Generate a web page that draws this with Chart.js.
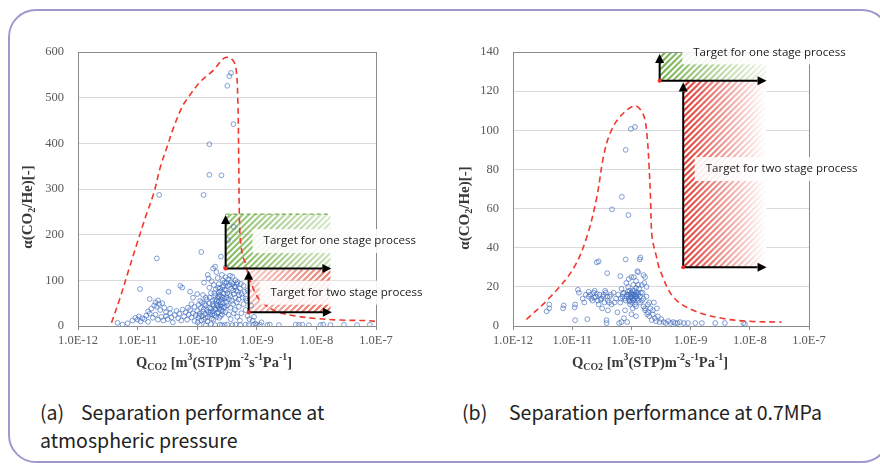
<!DOCTYPE html>
<html><head><meta charset="utf-8">
<script src="https://cdn.jsdelivr.net/npm/chart.js@4/dist/chart.umd.min.js"></script>
<style>
body{margin:0;background:#fff;width:880px;height:466px;overflow:hidden;position:relative;}
#frame{position:absolute;left:8px;top:9px;width:882px;height:454px;border:2px solid #a497cf;border-radius:28px;box-sizing:border-box;}
canvas{position:absolute;top:0;}
.cap{position:absolute;font-family:"Noto Sans CJK JP";font-size:19.5px;color:#222;line-height:28px;white-space:nowrap;}
</style></head><body>
<div id="frame"></div>
<canvas id="c1" width="440" height="380" style="left:0"></canvas>
<canvas id="c2" width="440" height="380" style="left:440px"></canvas>
<div class="cap" style="left:40px;top:398px">(a)</div>
<div class="cap" style="left:81px;top:398px">Separation performance at</div>
<div class="cap" style="left:40px;top:426px">atmospheric pressure</div>
<div class="cap" style="left:462px;top:398px">(b)</div>
<div class="cap" style="left:509px;top:398px">Separation performance at 0.7MPa</div>
<script>
// ---------- DATA ----------
const xTickExponents = [-12, -11, -10, -9, -8, -7];
const leftYTicksMax = 600, leftYStep = 100;
const rightYTicksMax = 140, rightYStep = 20;

// (a) atmospheric pressure : [Q_CO2, alpha]
const leftPoints = [
[2.3e-11,287],[1.28e-10,287],[1.6e-10,331],[2.55e-10,330],[1.6e-10,398],[4.05e-10,442],[3.2e-10,526],[3.45e-10,547],[3.7e-10,554],[4.1e-10,217],[3.3e-10,188],[2.1e-11,148],[1.17e-10,162],[2.5e-10,152],[2.0e-10,130],[1.85e-10,126],[3.0e-10,128],
[1.1e-11,81],[3.3e-11,75],[5.2e-11,88],[5.6e-11,84],[7.6e-11,75],[1.6e-11,59],[1.3e-10,95],[1.5e-10,112],[1.55e-10,104],[1.75e-10,98],[1.9e-10,90],[2.1e-10,118],[2.2e-10,105],[2.3e-10,92],[2.4e-10,82],[2.6e-10,112],[2.7e-10,100],[2.8e-10,88],[3.0e-10,107],[3.1e-10,95],[3.3e-10,102],[3.5e-10,90],[3.7e-10,96],[3.9e-10,108],[4.2e-10,86],[4.4e-10,100],[4.6e-10,92],[4.8e-10,75],[5.2e-10,82],[5.6e-10,70],[6e-10,88],[6.5e-10,60],[7e-10,78],[1.25e-10,68],[1.4e-10,62],[1.7e-10,72],[2.0e-10,66],[2.3e-10,74],[2.6e-10,64],[2.9e-10,80],[3.2e-10,72],[3.6e-10,66],[4.0e-10,78],[4.4e-10,62],[5.0e-10,68],[8.5e-11,62],[1.0e-10,70],
[1.7e-11,38],[1.9e-11,45],[2.0e-11,52],[2.1e-11,42],[2.2e-11,56],[2.3e-11,48],[2.4e-11,35],[2.6e-11,50],[2.8e-11,40],[1.5e-11,32],[3.0e-11,30],[3.5e-11,38],
[4.6e-12,7],[5.6e-12,3],[6.8e-12,6],[8.2e-12,12],[9.2e-12,18],[1.0e-11,14],[1.05e-11,21],[1.12e-11,10],[1.2e-11,17],[1.3e-11,15],[1.4e-11,23],[1.5e-11,9],[1.6e-11,27],[1.8e-11,18],[2.0e-11,25],[2.2e-11,14],[2.5e-11,20],[2.7e-11,12],[3.0e-11,22],[3.2e-11,15],[3.5e-11,28],[3.7e-11,19],[3.9e-11,8],[4.2e-11,24],[4.5e-11,33],[4.8e-11,17],[5.0e-11,27],[5.4e-11,12],[5.7e-11,36],[6.0e-11,21],[6.4e-11,30],[6.8e-11,14],[7.2e-11,25],[7.6e-11,35],[8.0e-11,19],[8.5e-11,28],[9.0e-11,11],[9.5e-11,24],[1.0e-10,33],[1.05e-10,18],[1.1e-10,27],[1.15e-10,40],[1.2e-10,22],[1.25e-10,31],[1.3e-10,14],[1.35e-10,26],[1.4e-10,45],[1.45e-10,35],[1.5e-10,20],[1.55e-10,30],[1.6e-10,50],[1.65e-10,25],[1.7e-10,38],[1.75e-10,16],[1.8e-10,55],[1.85e-10,32],[1.9e-10,44],[1.95e-10,24],[2.0e-10,58],[2.05e-10,36],[2.1e-10,48],[2.15e-10,28],[2.2e-10,62],[2.25e-10,42],[2.3e-10,54],[2.35e-10,18],[2.4e-10,68],[2.45e-10,46],[2.5e-10,35],[2.55e-10,58],[2.6e-10,25],[2.7e-10,50],[2.75e-10,72],[2.8e-10,40],[2.9e-10,60],[3.0e-10,30],[3.1e-10,52],[3.2e-10,45],[3.4e-10,58],[3.6e-10,40],[3.8e-10,55],[4.0e-10,48],[4.3e-10,35],[4.6e-10,52],[5.0e-10,42],[5.5e-10,28],[6.0e-10,48],[6.5e-10,35],[7.0e-10,22],
[1.02e-10,8],[1.08e-10,22],[1.18e-10,12],[1.28e-10,36],[1.38e-10,18],[1.48e-10,10],[1.58e-10,40],[1.68e-10,30],[1.78e-10,26],[1.88e-10,14],[1.98e-10,38],[2.08e-10,20],[2.18e-10,45],[2.28e-10,30],[2.38e-10,38],[2.48e-10,22],[2.58e-10,42],[2.68e-10,32],
[1.1e-10,3],[1.4e-10,2],[1.7e-10,4],[2.0e-10,2],[2.4e-10,3],[2.9e-10,2],
[2.6e-10,2],[3.2e-10,3],[3.9e-10,2],[4.4e-10,3],[5.3e-10,2],[6.5e-10,3],[7.3e-10,2],[8.9e-10,3],[1.0e-9,2],[1.13e-9,3],[1.5e-9,2],[1.65e-9,3],[2.35e-9,2],[4.5e-9,3],[5.1e-9,2],[5.8e-9,3],[7.5e-9,2],[1.17e-8,2],[1.3e-8,3],[1.72e-8,2],[2.9e-8,3],[4.8e-8,2],[7.9e-8,3],
[1.2e-9,8],[8.5e-10,12],[9.5e-10,5],[7.5e-10,15],[8e-10,45],[6.8e-10,55],[9e-10,20],
[2.65e-10,85],[2.85e-10,95],[3.05e-10,78],[3.25e-10,88],[3.45e-10,70],[3.55e-10,110],[3.75e-10,82],[3.95e-10,92],[4.15e-10,70],[4.35e-10,86],[4.55e-10,78],[4.75e-10,96],[4.95e-10,58],[5.4e-10,92],[5.8e-10,62],[6.2e-10,75],[2.45e-10,76],[2.25e-10,84],[2.05e-10,80],[1.95e-10,72],[1.6e-10,84],[1.45e-10,58],[1.2e-10,52],[1.05e-10,46],[9e-11,42],[8e-11,48],[7e-11,40],[3.35e-10,25],[3.65e-10,15],[4.1e-10,28],[4.7e-10,20],[5.2e-10,12],[1.12e-10,55],[1.32e-10,48],[1.62e-10,62],[1.82e-10,48],[2.12e-10,55],[2.32e-10,65],[2.52e-10,52],[2.72e-10,62],[2.92e-10,42],[3.12e-10,62]
];

// (b) 0.7 MPa : [Q_CO2, alpha]
const rightPoints = [
[4.7e-11,59.6],[8.9e-11,56.7],[6.9e-11,66],[8.0e-11,90],[9.8e-11,100.7],[1.15e-10,101.7],
[8e-11,34],[1.38e-10,34],[1.42e-10,35],[2.8e-11,33],[2.6e-11,32.5],[3.9e-11,27],[1.26e-10,28],[1.3e-10,27.5],[6.5e-11,25.5],[1.0e-10,25],[1.6e-10,26],[1.7e-10,25],[1.65e-10,22],[1.5e-10,21],[1.2e-10,23],[9e-11,24],[2.0e-10,12],[2.3e-10,8],[1.8e-10,20],
[7e-11,15],[7.5e-11,17],[8e-11,13],[8.5e-11,16],[9e-11,14],[9.3e-11,18],[9.6e-11,15],[1.0e-10,17],[1.03e-10,14],[1.06e-10,16],[1.1e-10,13],[1.13e-10,18],[1.16e-10,15],[1.2e-10,17],[1.25e-10,14],[1.3e-10,16],[1.35e-10,19],[1.4e-10,15],[6.5e-11,12],[6e-11,16],[5.5e-11,14],[5e-11,17],[5.2e-11,12],[9.5e-11,11],[1.05e-10,9],[1.15e-10,11],[8.8e-11,20],[1.08e-10,21],[1.2e-10,10],[1.4e-10,12],[1.55e-10,17],[1.6e-10,14],[1.7e-10,9],[1.8e-10,15],[1.9e-10,7],[7.8e-11,8],[8.2e-11,22],[6.8e-11,19],
[1.9e-11,15],[2e-11,16],[2.1e-11,14],[2.3e-11,17],[2.5e-11,15],[2.7e-11,13],[2.9e-11,16],[3.1e-11,14],[3.3e-11,15],[3.5e-11,12],[3.7e-11,17],[4e-11,13],[4.3e-11,15],[4.6e-11,11],[1.7e-11,16],[1.6e-11,12],[1.5e-11,14],[2.2e-11,13],[2.8e-11,11],[3.2e-11,9],[4e-11,8],[3.6e-11,18],[2.4e-11,18],[4.5e-11,16],
[3.7e-12,7.5],[4.1e-12,9],[4.1e-12,11],[7e-12,9],[7.2e-12,10.5],[1.12e-11,11],[1.1e-11,9.5],[1.12e-11,3],[1.25e-11,18.5],[1.3e-11,17],[1.8e-11,3.5],[1.9e-11,17.5],[3.8e-11,3],[3.8e-11,1.5],[6.2e-11,1.5],[6.8e-11,2],[5.8e-11,7],[7.5e-11,4],[1.2e-10,5],[1.0e-10,6],[8.5e-11,2],
[1.6e-10,10],[1.7e-10,8],[1.85e-10,6],[2.0e-10,5],[2.1e-10,9],[2.2e-10,3],[2.3e-10,6],[2.5e-10,4],[2.6e-10,2.5],[2.8e-10,5],[3.0e-10,2],[3.2e-10,3.5],[3.5e-10,2],[3.8e-10,1.5],[4.2e-10,2.5],[4.6e-10,1.5],[5.1e-10,2],[5.5e-10,1.5],[6e-10,1.5],[6.6e-10,2],[7.7e-10,1.5],[9e-10,1.5],[1.2e-9,1.5],[1.55e-9,1.5],[2.6e-9,1.5],[3.8e-9,1.5],[7.8e-9,1.5],[8.3e-9,1],[2.4e-10,12],[2.7e-10,9],[1.9e-10,11],
[8.3e-11,15],[8.7e-11,17.5],[9.1e-11,16],[9.4e-11,13],[9.8e-11,16.5],[1.01e-10,15],[1.04e-10,18],[1.07e-10,13.5],[1.11e-10,16],[1.14e-10,14],[1.18e-10,16],[1.22e-10,15],[1.27e-10,17],[1.32e-10,13],[7.7e-11,14],[7.2e-11,16.5],[6.6e-11,14],[1.45e-10,17],[1.5e-10,13],[2.35e-11,14.5],[2.6e-11,16.5],[3e-11,13.5],[3.4e-11,16],[3.9e-11,15],[4.2e-11,12],[1.02e-10,12],[9.2e-11,12.5],[1.2e-10,19.5],[1.3e-10,21],[1.1e-10,25]
];

// upper-bound (dashed red) curves : [Q_CO2, alpha]
const leftBound = [[3.65e-12,7],[5.16e-12,64],[7.1e-12,123],[9.8e-12,181],[1.36e-11,239],[1.87e-11,291],[2.42e-11,349],[3.14e-11,393],[4.05e-11,436],[5.6e-11,480],[7.2e-11,502],[1.13e-10,535],[1.9e-10,561],[2.79e-10,586],[3.6e-10,587],[4.4e-10,569],[4.8e-10,495],[4.99e-10,349],[5.2e-10,204],[5.75e-10,155],[6.45e-10,137],[7.35e-10,108],[1.02e-9,64],[1.4e-9,46],[2.2e-9,31],[4.45e-9,22],[8.9e-9,17],[2.5e-8,13],[8.1e-8,11.6],[9.6e-8,10]];
const rightBound = [[1.68e-12,3.3],[4.26e-12,14.8],[1.05e-11,29.4],[1.77e-11,45.6],[2.61e-11,66],[3.37e-11,86.5],[4.37e-11,98.5],[6.45e-11,107],[1.15e-10,112.5],[1.59e-10,108],[1.82e-10,98.5],[1.99e-10,81.4],[2.11e-10,64.4],[2.23e-10,45.6],[2.61e-10,36.2],[3.05e-10,28.5],[5.1e-10,14.8],[1.11e-9,8],[3.56e-9,3.8],[1e-8,2.4],[3.44e-8,2]];

// target regions : origin (Q, alpha), extent to Q and alpha
const targetLabels = ['Target for one stage process', 'Target for two stage process'];
const leftTargets = [
  {q0:3e-10, a0:126, q1:1.72e-8, a1:246, tipA:243, tipQ:1.78e-8, label:0, lq:1.3e-9, la:186},
  {q0:7.3e-10, a0:30, q1:1.72e-8, a1:124, tipA:121, tipQ:1.82e-8, label:1, lq:1.7e-9, la:73}
];
const rightTargets = [
  {q0:3e-10, a0:125.3, q1:1.92e-8, a1:140, tipA:139, tipQ:1.92e-8, label:0, lq:1.11e-9, la:139.8},
  {q0:7.5e-10, a0:30, q1:1.92e-8, a1:125, tipA:124.4, tipQ:1.92e-8, label:1, lq:1.8e-9, la:80.2}
];

// ---------- DRAWING HELPERS ----------
const toXY = arr => arr.map(p => ({x:p[0], y:p[1]}));

function drawRich(ctx, segs, x, y, size, rotate){
  ctx.save();
  ctx.translate(x, y);
  if (rotate) ctx.rotate(-Math.PI/2);
  const fam = '"Liberation Serif", "Times New Roman", serif';
  let total = 0;
  const parts = segs.map(s => {
    const fs = s.k ? size*0.68 : size;
    ctx.font = 'bold ' + fs + 'px ' + fam;
    const w = ctx.measureText(s.t).width;
    total += w;
    return {t:s.t, fs, w, dy: s.k==='sub' ? size*0.28 : s.k==='sup' ? -size*0.38 : 0};
  });
  let cx = -total/2;
  ctx.fillStyle = '#3a3a3a';
  ctx.textBaseline = 'middle';
  ctx.textAlign = 'left';
  parts.forEach(p => {
    ctx.font = 'bold ' + p.fs + 'px ' + fam;
    ctx.fillText(p.t, cx, p.dy);
    cx += p.w;
  });
  ctx.restore();
}

function hatch(ctx, x0, yb, x1, yt, rgb, g, whiteBack){
  ctx.save();
  ctx.beginPath(); ctx.rect(x0, yt, x1-x0, yb-yt); ctx.clip();
  const w = x1-x0, h = yb-yt;
  if (whiteBack){ ctx.fillStyle = '#fff'; ctx.fillRect(x0, yt, w, h); }
  const gr = ctx.createLinearGradient(x0+g[0]*w, yt+g[1]*h, x0+g[2]*w, yt+g[3]*h);
  gr.addColorStop(0, 'rgba('+rgb+','+g[4]+')');
  gr.addColorStop(1, 'rgba('+rgb+','+g[5]+')');
  ctx.strokeStyle = gr;
  ctx.lineWidth = 2.2;
  const sp = 6;
  ctx.beginPath();
  for (let s = x0 - h; s < x1 + sp; s += sp){
    ctx.moveTo(s, yb); ctx.lineTo(s + h, yt);
  }
  ctx.stroke();
  ctx.restore();
}

function arrow(ctx, xa, ya, xb, yb){
  const ang = Math.atan2(yb-ya, xb-xa), L = 9, W = 4.5;
  const bx = xb - L*Math.cos(ang), by = yb - L*Math.sin(ang);
  ctx.beginPath(); ctx.moveTo(xa, ya); ctx.lineTo(bx, by); ctx.stroke();
  ctx.beginPath(); ctx.moveTo(xb, yb);
  ctx.lineTo(bx - W*Math.sin(ang), by + W*Math.cos(ang));
  ctx.lineTo(bx + W*Math.sin(ang), by - W*Math.cos(ang));
  ctx.closePath(); ctx.fill();
}

function makePlugin(cfg){
  return {
    id: 'decor',
    beforeDatasetsDraw(chart){
      const ctx = chart.ctx, X = chart.scales.x, Y = chart.scales.y;
      cfg.targets.forEach((t, i) => {
        const x0 = X.getPixelForValue(t.q0), x1 = X.getPixelForValue(t.q1);
        const yb = Y.getPixelForValue(t.a0), yt = Y.getPixelForValue(t.a1);
        const style = cfg.hatch[i];
        hatch(ctx, x0, yb, x1, yt, style.rgb, style.g, style.white);
        if (style.dashTop){
          ctx.save(); ctx.strokeStyle = 'rgba(106,170,60,0.9)'; ctx.lineWidth = 1.2; ctx.setLineDash([4,3]);
          ctx.beginPath(); ctx.moveTo(x0, yt+0.5); ctx.lineTo(x1, yt+0.5); ctx.stroke(); ctx.restore();
        }
      });
    },
    afterDatasetsDraw(chart){
      const ctx = chart.ctx, X = chart.scales.x, Y = chart.scales.y, a = chart.chartArea;
      ctx.save();
      ctx.strokeStyle = '#8a8a8a'; ctx.lineWidth = 1;
      ctx.strokeRect(Math.round(a.left)+0.5, Math.round(a.top)+0.5, Math.round(a.right-a.left), Math.round(a.bottom-a.top));
      ctx.strokeStyle = '#000'; ctx.fillStyle = '#000'; ctx.lineWidth = 2;
      cfg.targets.forEach(t => {
        const x0 = X.getPixelForValue(t.q0), y0 = Y.getPixelForValue(t.a0);
        arrow(ctx, x0, y0, x0, Y.getPixelForValue(t.tipA));
        arrow(ctx, x0, y0, X.getPixelForValue(t.tipQ), y0);
      });
      ctx.fillStyle = '#e8302a';
      cfg.targets.forEach(t => {
        ctx.beginPath(); ctx.arc(X.getPixelForValue(t.q0), Y.getPixelForValue(t.a0), 2, 0, Math.PI*2); ctx.fill();
      });
      ctx.font = '11.5px "Open Sans", sans-serif';
      ctx.textBaseline = 'middle'; ctx.textAlign = 'left';
      cfg.targets.forEach(t => {
        const txt = targetLabels[t.label];
        const lx = X.getPixelForValue(t.lq), ly = Y.getPixelForValue(t.la);
        const w = ctx.measureText(txt).width;
        ctx.fillStyle = 'rgba(255,255,255,0.88)';
        ctx.fillRect(lx - 11, ly - 12, w + 18, 24);
        ctx.fillStyle = '#1a1a1a';
        ctx.fillText(txt, lx, ly);
      });
      ctx.restore();
    },
    afterDraw(chart){
      const ctx = chart.ctx;
      drawRich(ctx, cfg.yTitle, cfg.yTitlePos[0], cfg.yTitlePos[1], 15, true);
      drawRich(ctx, cfg.xTitle, cfg.xTitlePos[0], cfg.xTitlePos[1], 14.5, false);
    }
  };
}

const yTitleSegs = [{t:'α(CO'},{t:'2',k:'sub'},{t:'/He)[-]'}];
const xTitleSegs = [{t:'Q'},{t:'CO2',k:'sub'},{t:' [m'},{t:'3',k:'sup'},{t:'(STP)m'},{t:'-2',k:'sup'},{t:'s'},{t:'-1',k:'sup'},{t:'Pa'},{t:'-1',k:'sup'},{t:']'}];

function build(canvasId, points, bound, yMax, yStep, targets, hatchStyles, yAxisWidth, rightPad, titles){
  const tickFont = {family:'"Liberation Serif", "Times New Roman", serif', size:12.5};
  return new Chart(document.getElementById(canvasId), {
    type: 'scatter',
    data: {
      datasets: [
        {data: toXY(bound), showLine: true, borderColor: '#f0392e', borderWidth: 1.6, borderDash: [6,4], pointRadius: 0, tension: 0.35, order: 0},
        {data: toXY(points), pointStyle: 'circle', pointRadius: 2.4, borderWidth: 0.8, borderColor: 'rgba(60,105,190,0.8)', backgroundColor: 'rgba(0,0,0,0)', order: 1}
      ]
    },
    options: {
      responsive: false, animation: false, devicePixelRatio: 1,
      layout: {padding: {left: 0, top: 52, right: rightPad, bottom: 0}},
      plugins: {legend: {display: false}, tooltip: {enabled: false}},
      scales: {
        x: {
          type: 'logarithmic', min: 1e-12, max: 1e-7,
          afterBuildTicks: s => { s.ticks = xTickExponents.map(e => ({value: Math.pow(10, e)})); },
          afterFit: s => { s.height = 54; },
          ticks: {callback: v => '1.0E' + Math.round(Math.log10(v)), color: '#595959', font: tickFont, padding: 3.5, maxRotation: 0, autoSkip: false},
          grid: {display: true, drawOnChartArea: false, drawTicks: true, tickLength: 4, color: '#8a8a8a'},
          border: {display: false}
        },
        y: {
          min: 0, max: yMax,
          afterFit: s => { s.width = yAxisWidth; },
          ticks: {stepSize: yStep, color: '#595959', font: tickFont, padding: 14},
          grid: {color: '#d9d9d9', drawTicks: false},
          border: {display: false}
        }
      }
    },
    plugins: [makePlugin({targets, hatch: hatchStyles, yTitle: yTitleSegs, xTitle: xTitleSegs, yTitlePos: titles[0], xTitlePos: titles[1]})]
  });
}

build('c1', leftPoints, leftBound, leftYTicksMax, leftYStep, leftTargets,
  [{rgb:'106,170,60', g:[0,1,1,0,0.85,0.25], dashTop:true},
   {rgb:'226,80,60', g:[0,0,1,1,0.25,0.85]}],
  78, 64, [[28, 207], [214, 363]]);
build('c2', rightPoints, rightBound, rightYTicksMax, rightYStep, rightTargets,
  [{rgb:'106,170,60', g:[0,0,1,0,0.9,0.1]},
   {rgb:'220,50,40', g:[0,0,1,0,0.95,0.0], white:true}],
  73, 71, [[25, 208], [210, 363]]);
</script>
</body></html>
